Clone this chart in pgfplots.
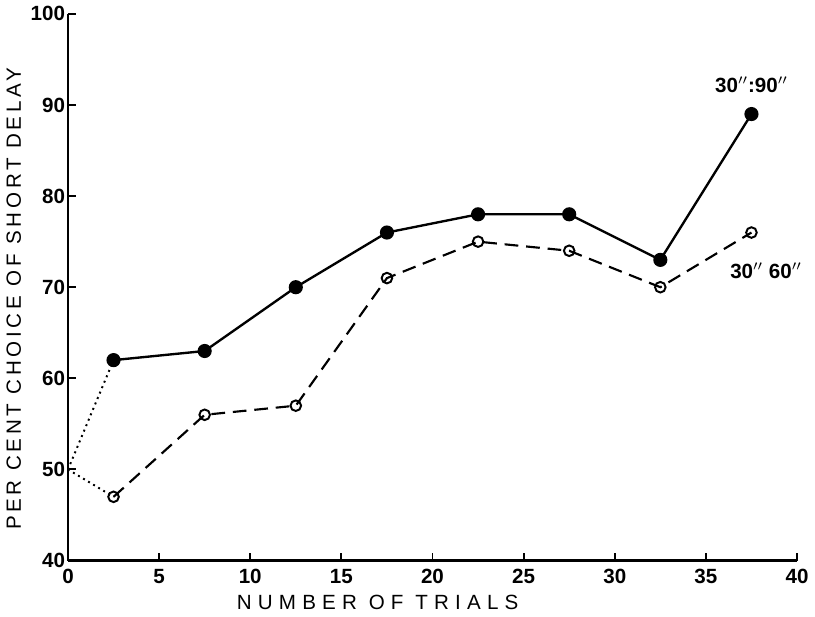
\documentclass[border=0pt]{standalone}
\usepackage{fontspec}
\setmainfont{Liberation Sans}
\usepackage{pgfplots}
\pgfplotsset{compat=1.18}
\begin{document}
\begin{tikzpicture}
\begin{axis}[
  scale only axis,
  width=372pt, height=279pt,
  xmin=0, xmax=40, ymin=40, ymax=100,
  axis x line=bottom, axis y line=left,
  axis line style={-, line width=1.3pt},
  xtick={0,5,...,40}, ytick={40,50,...,100},
  tick align=inside, major tick length=4pt,
  tick style={line width=1pt, black},
  /pgf/number format/assume math mode=true,
  tick label style={font=\bfseries\fontsize{10.5}{12}\selectfont},
  xticklabel style={yshift=-1pt},
  yticklabel style={xshift=2pt},
  xlabel={\addfontfeature{LetterSpace=30}NUMBER OF TRIALS},
  ylabel={\addfontfeature{LetterSpace=18}PER CENT CHOICE OF SHORT DELAY},
  label style={font=\fontsize{10.5}{12}\selectfont},
  xlabel style={yshift=1pt, xshift=-28pt},
  ylabel style={yshift=-2pt, xshift=-6pt},
  clip=false,
]
% dotted initial segments
\addplot[black, dotted, line width=1pt] coordinates {(0,50) (2.5,62)};
\addplot[black, dotted, line width=1pt] coordinates {(0,50) (2.5,47)};
% 30":90" solid
\addplot[black, line width=1.2pt, mark=*, mark size=3pt, mark options={solid, fill=black}]
  coordinates {(2.5,62) (7.5,63) (12.5,70) (17.5,76) (22.5,78) (27.5,78) (32.5,73) (37.5,89)};
% 30":60" dashed
\addplot[black, line width=1.1pt, dash pattern=on 7pt off 4pt, mark=o, mark size=2.7pt, mark options={solid, fill=white, line width=1pt}]
  coordinates {(2.5,47) (7.5,56) (12.5,57) (17.5,71) (22.5,75) (27.5,74) (32.5,70) (37.5,76)};
\node[font=\bfseries\fontsize{10.5}{12}\selectfont] at (axis cs:37.5,92.2) {30$''$:90$''$};
\node[font=\bfseries\fontsize{10.5}{12}\selectfont] at (axis cs:38.3,71.8) {30$''$ 60$''$};
\end{axis}
\end{tikzpicture}
\end{document}
